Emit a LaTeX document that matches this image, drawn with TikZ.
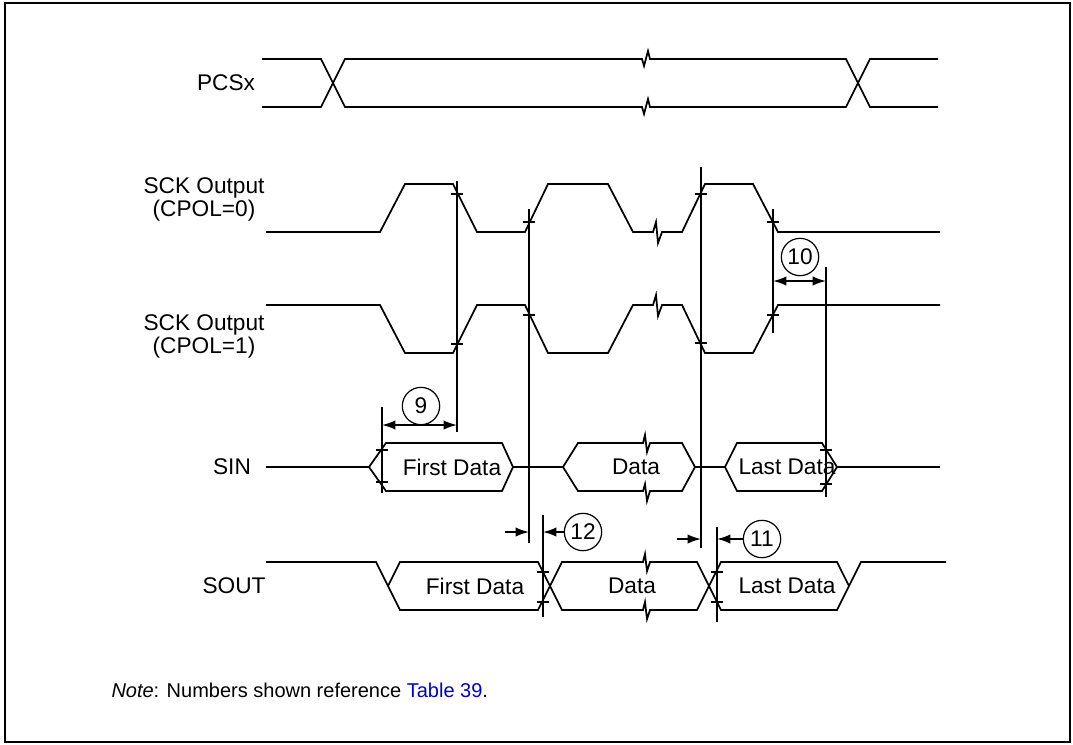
\documentclass[tikz,border=0pt]{standalone}
\usepackage{fontspec}
\setmainfont{Liberation Sans}
\usetikzlibrary{arrows.meta}
\definecolor{linkblue}{RGB}{0,0,204}
\tikzset{every picture/.style={line width=0.75pt}}
\tikzset{
  sig/.style={line width=1.3pt, line join=miter},
  vline/.style={line width=1.5pt},
  tickmark/.style={line width=1.5pt},
  dimboth/.style={line width=1.3pt, {Latex[length=10pt,width=7pt]}-{Latex[length=10pt,width=7pt]}},
  dimhead/.style={line width=1.3pt, -{Latex[length=10pt,width=7pt]}},
  numcirc/.style={draw, circle, line width=0.9pt, minimum size=28pt, inner sep=0pt, font=\fontsize{17}{17}\selectfont},
  lbl/.style={inner sep=0.75pt, align=center, font=\fontsize{17}{17.25}\selectfont},
}

\begin{document}
\begin{tikzpicture}[x=0.75pt,y=0.75pt,yscale=-1,xscale=1]
	\useasboundingbox (0,0) rectangle (1073,744);
	%Frame
	\draw [line width=1.5pt] (5,3) rectangle (1070,742);
	
	%Shape: PCSx
	\draw [sig] (262,59) -- (321,59) -- (345,107) -- (642,107) -- (644,114) -- (648,99) -- (650,107) -- (846,107) -- (870,59) -- (938,59) ;
	\draw [sig] (262,107) -- (321,107) -- (345,59) -- (642,59) -- (644,66) -- (648,51) -- (650,59) -- (846,59) -- (870,107) -- (938,107) ;
	
	%Shape: SCK, CPOL=0
	\draw [sig] (266,232) -- (380,232) -- (405,184) -- (453,184) -- (477,232) -- (525,232) -- (548,184) -- (608,184) -- (633,232) -- (653,232) -- (656,222) -- (658,243) -- (662,232) -- (682,232) -- (705,184) -- (753,184) -- (778,232) -- (940,232) ;
	%Shape: SCK, CPOL=1
	\draw [sig] (266,305) -- (380,305) -- (405,353) -- (453,353) -- (477,305) -- (525,305) -- (548,353) -- (608,353) -- (633,305) -- (653,305) -- (656,295) -- (658,316) -- (662,305) -- (682,305) -- (705,353) -- (753,353) -- (778,305) -- (940,305) ;
	
	%Shape: SIN
	\draw [sig] (266,467) -- (369,467) ;
	\draw [sig] (369,467) -- (386,443) -- (502,443) -- (513,467) -- (502,491) -- (386,491) -- cycle ;
	\draw [sig] (513,467) -- (563,467) ;
	\draw [sig] (563,467) -- (578,443) -- (643,443) -- (645,435) -- (647,452) -- (650,443) -- (682,443) -- (695,467) -- (682,491) -- (650,491) -- (647,501) -- (645,484) -- (643,491) -- (578,491) -- cycle ;
	\draw [sig] (695,467) -- (725,467) ;
	\draw [sig] (725,467) -- (737,443) -- (822,443) -- (837,467) -- (822,491) -- (737,491) -- cycle ;
	\draw [sig] (837,467) -- (940,467) ;
	
	%Shape: SOUT
	\draw [sig] (266,562) -- (376,562) -- (400,610) -- (538,610) -- (562,562) -- (643,562) -- (645,554) -- (647,571) -- (650,562) -- (697,562) -- (721,610) -- (837,610) -- (861,562) -- (946,562) ;
	\draw [sig] (388,586) -- (400,562) -- (538,562) -- (562,610) -- (643,610) -- (645,602) -- (647,619) -- (650,610) -- (697,610) -- (721,562) -- (837,562) -- (849,586) ;
	
	%Straight Lines: timing references
	\draw [vline] (457,181) -- (457,432) ;
	\draw [vline] (529,209) -- (529,543) ;
	\draw [vline] (701,167) -- (701,548) ;
	\draw [vline] (773,209) -- (773,333) ;
	\draw [vline] (826,267) -- (826,497) ;
	\draw [vline] (382,407) -- (382,493) ;
	\draw [vline] (543,515) -- (543,617) ;
	\draw [vline] (717,527) -- (717,622) ;
	
	%Ticks
	\draw [tickmark] (451,194) -- (463,194) ;  \draw [tickmark] (451,344) -- (463,344) ;
	\draw [tickmark] (523,222) -- (535,222) ;  \draw [tickmark] (523,315) -- (535,315) ;
	\draw [tickmark] (695,194) -- (707,194) ;  \draw [tickmark] (695,343) -- (707,343) ;
	\draw [tickmark] (767,222) -- (779,222) ;  \draw [tickmark] (767,315) -- (779,315) ;
	\draw [tickmark] (820,450) -- (832,450) ;  \draw [tickmark] (820,484) -- (832,484) ;
	\draw [tickmark] (376,450) -- (388,450) ;  \draw [tickmark] (376,482) -- (388,482) ;
	\draw [tickmark] (537,572) -- (549,572) ;  \draw [tickmark] (537,602) -- (549,602) ;
	\draw [tickmark] (711,572) -- (723,572) ;  \draw [tickmark] (711,602) -- (723,602) ;
	
	%Timing numbers
	\node [numcirc] (c9) at (421,406) {9};
	\node [numcirc] (c10) at (800,257) {10};
	\node [numcirc] (c12) at (583,532) {12};
	\node [numcirc] (c11) at (762,539) {11};
	\draw [dimboth] (382,425) -- (457,425) ;
	\draw [dimboth] (773,281) -- (826,281) ;
	\draw [dimhead] (505,532) -- (529,532) ;
	\draw [dimhead] (c12.west) -- (543,532) ;
	\draw [dimhead] (677,539) -- (701,539) ;
	\draw [dimhead] (c11.west) -- (717,539) ;
	
	% Text Node
	\node [lbl] (pcsx) at (226,83) {PCSx};
	% Text Node
	\node [lbl] (sck0) at (204,199) {SCK Output\\(CPOL=0)};
	% Text Node
	\node [lbl] (sck1) at (204,336) {SCK Output\\(CPOL=1)};
	% Text Node
	\node [lbl] (sin) at (232,467) {SIN};
	% Text Node
	\node [lbl] (sout) at (234,586) {SOUT};
	% Text Node
	\node [lbl] (sinfirst) at (452,467) {First Data};
	\node [lbl] (sindata) at (636,467) {Data};
	\node [lbl] (sinlast) at (787,467) {Last Data};
	% Text Node
	\node [lbl] (soutfirst) at (475,586) {First Data};
	\node [lbl] (soutdata) at (632,586) {Data};
	\node [lbl] (soutlast) at (787,586) {Last Data};
	% Text Node
	\node [anchor=west, inner sep=0.75pt, font=\fontsize{15}{15}\selectfont] (note) at (110,690) {\textit{Note}: Numbers shown reference \textcolor{linkblue}{Table 39}.};
	
\end{tikzpicture}
\end{document}
